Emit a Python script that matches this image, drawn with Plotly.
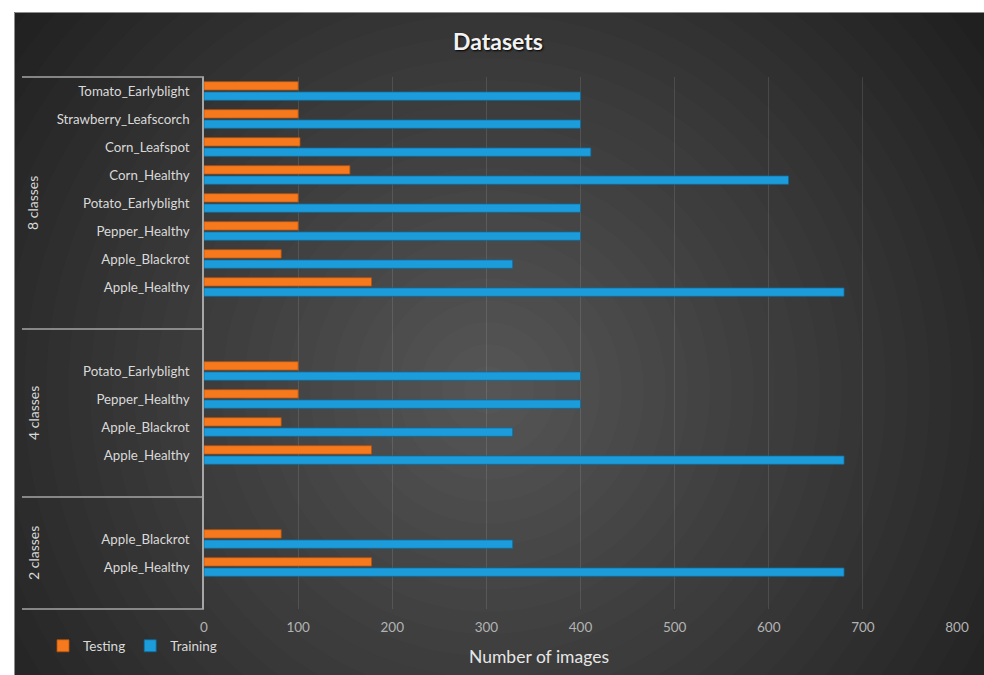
import plotly.graph_objects as go

# ---------------- data ----------------
group_names = ["8 classes", "4 classes", "2 classes"]

cats_8 = ["Tomato_Earlyblight", "Strawberry_Leafscorch", "Corn_Leafspot", "Corn_Healthy",
          "Potato_Earlyblight", "Pepper_Healthy", "Apple_Blackrot", "Apple_Healthy", ""]
test_8 = [100, 100, 102, 155, 100, 100, 82, 178, None]
train_8 = [400, 400, 411, 621, 400, 400, 328, 680, None]

cats_4 = ["", "Potato_Earlyblight", "Pepper_Healthy", "Apple_Blackrot", "Apple_Healthy", ""]
test_4 = [None, 100, 100, 82, 178, None]
train_4 = [None, 400, 400, 328, 680, None]

cats_2 = ["", "Apple_Blackrot", "Apple_Healthy", ""]
test_2 = [None, 82, 178, None]
train_2 = [None, 328, 680, None]

x_ticks = [0, 100, 200, 300, 400, 500, 600, 700, 800]

groups = [(group_names[0], cats_8, test_8, train_8),
          (group_names[1], cats_4, test_4, train_4),
          (group_names[2], cats_2, test_2, train_2)]

# ---------------- layout helpers ----------------
W, H = 984, 675
ML, MR, MT, MB = 204, 27, 77, 66
PW, PH = W - ML - MR, H - MT - MB


def px(x):
    return (x - ML) / PW


def py(y):
    return (H - MB - y) / PH


# flatten slots
slot_y, slot_cat, slot_test, slot_train = [], [], [], []
bounds = [0]
i = 0
for gname, cats, te, tr in groups:
    for c, a, b in zip(cats, te, tr):
        slot_y.append(i)
        slot_cat.append(c)
        slot_test.append(a)
        slot_train.append(b)
        i += 1
    bounds.append(i)
NS = i

tickvals = [y for y, c in zip(slot_y, slot_cat) if c]
ticktext = [c for c in slot_cat if c]

fig = go.Figure()
fig.add_trace(go.Bar(
    name="Testing", y=slot_y, x=slot_test, orientation="h",
    marker=dict(color="#F7791E", line=dict(color="#B5530C", width=0.8)),
))
fig.add_trace(go.Bar(
    name="Training", y=slot_y, x=slot_train, orientation="h",
    marker=dict(color="#1C9CDB", line=dict(color="#0D6A9A", width=0.8)),
))

shapes = []
# radial gradient background as concentric circles
cx, cy = 488, 390
r = 640
while r > 0:
    v = int(round(87 - 55 * (r / 620)))
    v = max(v, 32)
    col = "rgb(%d,%d,%d)" % (v, v, v)
    shapes.append(dict(type="circle", xref="paper", yref="paper",
                       x0=px(cx - r), x1=px(cx + r), y0=py(cy + r), y1=py(cy - r),
                       fillcolor=col, line=dict(width=0), layer="below"))
    r -= 22

# white outer border strips
shapes.append(dict(type="rect", xref="paper", yref="paper",
                   x0=px(-5), x1=px(14), y0=py(H + 5), y1=py(-5),
                   fillcolor="white", line=dict(width=0), layer="below"))
shapes.append(dict(type="rect", xref="paper", yref="paper",
                   x0=px(-5), x1=px(W + 5), y0=py(12), y1=py(-5),
                   fillcolor="white", line=dict(width=0), layer="below"))
shapes.append(dict(type="rect", xref="paper", yref="paper",
                   x0=px(14.5), x1=px(W + 5), y0=py(H + 5), y1=py(12.5),
                   fillcolor="rgba(0,0,0,0)", line=dict(width=1, color="#8c8c8c"), layer="below"))

# group separators
for b in bounds:
    yb = 1 - b / NS
    shapes.append(dict(type="line", xref="paper", yref="paper",
                       x0=px(22), x1=0, y0=yb, y1=yb,
                       line=dict(color="#a6a6a6", width=1.5)))

annotations = []
for k, (gname, cats, te, tr) in enumerate(groups):
    mid = (bounds[k] + bounds[k + 1]) / 2
    annotations.append(dict(text=gname, xref="paper", yref="paper",
                            x=px(33), y=1 - mid / NS, textangle=-90,
                            showarrow=False, xanchor="center", yanchor="middle",
                            font=dict(size=14, color="#d9d9d9")))

annotations.append(dict(text="Number of images", xref="paper", yref="paper",
                        x=px(539), y=py(656), showarrow=False,
                        xanchor="center", yanchor="middle",
                        font=dict(size=17.5, color="#e6e6e6")))

fig.update_layout(
    width=W, height=H,
    margin=dict(l=ML, r=MR, t=MT, b=MB, pad=0),
    paper_bgcolor="#202020",
    plot_bgcolor="rgba(0,0,0,0)",
    font=dict(family="Lato, Liberation Sans, sans-serif", size=13, color="#d9d9d9"),
    title=dict(text="<b>Datasets</b>", x=498 / W, xanchor="center",
               y=1 - 42 / H, yanchor="middle", xref="container", yref="container",
               font=dict(size=23, color="#f2f2f2", shadow="1px 1px 2px #000000")),
    barmode="group", bargap=0.27, bargroupgap=0.18,
    shapes=shapes, annotations=annotations,
    legend=dict(orientation="h", x=px(43), y=py(646), xanchor="left", yanchor="middle",
                bgcolor="rgba(0,0,0,0)", font=dict(size=13.5, color="#d9d9d9"),
                itemwidth=30, traceorder="normal"),
    showlegend=True,
)

fig.update_xaxes(range=[0, 800], tickvals=x_ticks, ticktext=[str(t) for t in x_ticks],
                 showgrid=True, gridcolor="rgba(255,255,255,0.11)", gridwidth=1,
                 zeroline=False, showline=False,
                 ticks="outside", ticklen=6, tickcolor="rgba(0,0,0,0)",
                 tickfont=dict(size=13.5, color="#b3b3b3"), automargin=False, fixedrange=True)

fig.update_yaxes(range=[NS - 0.5, -0.5], tickvals=tickvals, ticktext=ticktext,
                 showgrid=False, zeroline=False,
                 showline=True, linecolor="#a6a6a6", linewidth=1.5,
                 ticks="outside", ticklen=10, tickcolor="rgba(0,0,0,0)",
                 tickfont=dict(size=13.3, color="#d9d9d9"), automargin=False, fixedrange=True)

fig.write_html("out.html")
